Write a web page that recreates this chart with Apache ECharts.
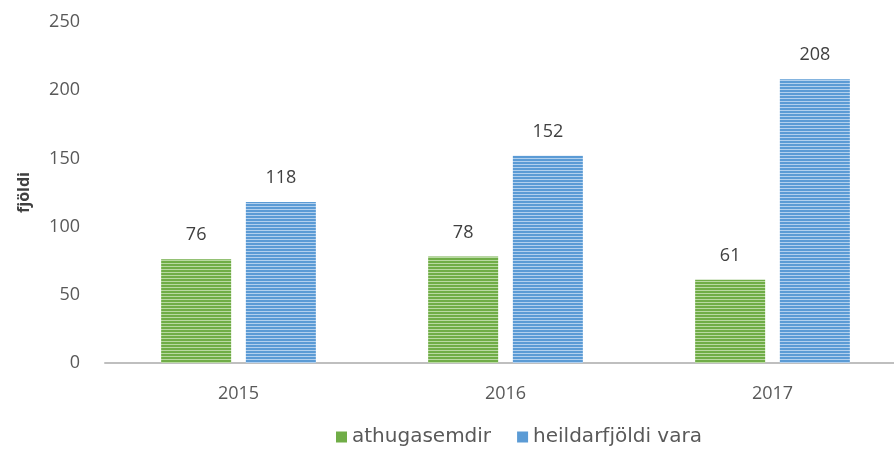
<!DOCTYPE html>
<html>
<head>
<meta charset="utf-8">
<script src="https://cdn.jsdelivr.net/npm/echarts@6/dist/echarts.min.js"></script>
<style>
  html, body { margin: 0; padding: 0; background: #fff; }
  #chart { width: 894px; height: 456px; }
</style>
</head>
<body>
<div id="chart"></div>
<script>
  const years = ["2015", "2016", "2017"];
  const athugasemdir = [76, 78, 61];
  const heildarfjoldi = [118, 152, 208];

  // horizontal stripes like the original bars
  function stripes(dark, light) {
    let c = document.createElement("canvas");
    c.width = 4;
    c.height = 3;
    let ctx = c.getContext("2d");
    ctx.fillStyle = dark;
    ctx.fillRect(0, 0, 4, 3);
    ctx.fillStyle = light;
    ctx.fillRect(0, 2, 4, 1);
    return { image: c, repeat: "repeat" };
  }

  const green = "#70ad47";
  const blue = "#5b9bd5";
  const font = "'Open Sans', sans-serif";

  let chart = echarts.init(document.getElementById("chart"));
  chart.setOption({
    textStyle: { fontFamily: font },
    legend: {
      bottom: 4,
      left: 331,
      itemWidth: 11,
      itemHeight: 11,
      itemGap: 26,
      icon: "rect",
      textStyle: { color: "#595959", fontSize: 20, fontFamily: "'DejaVu Sans', sans-serif" },
      data: [
        { name: "athugasemdir", itemStyle: { color: green } },
        { name: "heildarfjöldi vara", itemStyle: { color: blue } }
      ]
    },
    grid: { left: 105, top: 22, width: 801, height: 341, outerBoundsMode: "none" },
    xAxis: {
      type: "category",
      data: years,
      axisLine: { lineStyle: { color: "#bfbfbf", width: 2 } },
      axisTick: { show: false },
      axisLabel: { color: "#595959", fontSize: 18, margin: 22 }
    },
    yAxis: {
      type: "value",
      min: 0,
      max: 250,
      interval: 50,
      name: "fjöldi",
      nameLocation: "middle",
      nameGap: 73,
      nameTextStyle: { color: "#404040", fontSize: 16, fontWeight: "bold" },
      axisLine: { show: false },
      axisTick: { show: false },
      splitLine: { show: false },
      axisLabel: { color: "#595959", fontSize: 18, margin: 25 }
    },
    series: [
      {
        name: "athugasemdir",
        type: "bar",
        data: athugasemdir,
        barWidth: 70,
        barGap: "21%",
        itemStyle: { color: stripes(green, "#b9d9a2") },
        label: { show: true, position: "top", distance: 15, color: "#404040", fontSize: 18 }
      },
      {
        name: "heildarfjöldi vara",
        type: "bar",
        data: heildarfjoldi,
        barWidth: 70,
        itemStyle: { color: stripes(blue, "#b2d0ee") },
        label: { show: true, position: "top", distance: 15, color: "#404040", fontSize: 18 }
      }
    ]
  });
</script>
</body>
</html>
